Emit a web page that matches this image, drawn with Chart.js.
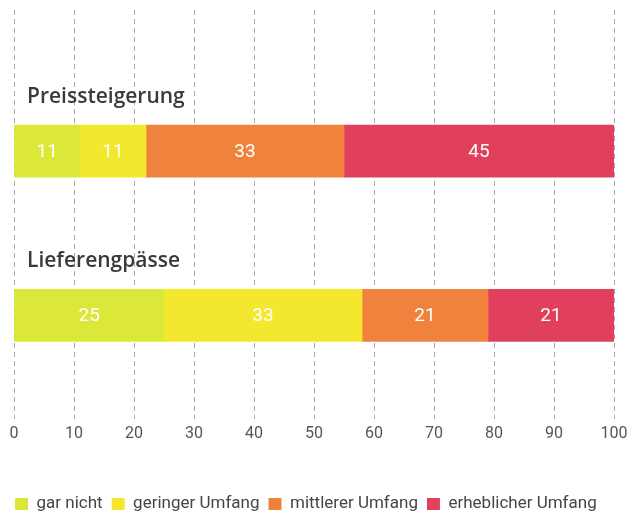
<!DOCTYPE html>
<html lang="de">
<head>
<meta charset="utf-8">
<title>Preissteigerung und Lieferengpässe</title>
<script src="https://cdn.jsdelivr.net/npm/chart.js@4/dist/chart.umd.min.js"></script>
<style>
  html, body { margin: 0; padding: 0; background: #fff; overflow: hidden; }
  #rahmen { width: 640px; height: 511px; position: relative; }
</style>
</head>
<body>
<div id="rahmen"><canvas id="umfrageChart"></canvas></div>
<script>
// --- Daten ---
const KATEGORIEN = ['Preissteigerung', 'Lieferengpässe'];
const SERIEN = ['gar nicht', 'geringer Umfang', 'mittlerer Umfang', 'erheblicher Umfang'];
const GAR_NICHT = [11, 25];
const GERINGER_UMFANG = [11, 33];
const MITTLERER_UMFANG = [33, 21];
const ERHEBLICHER_UMFANG = [45, 21];
const X_TICKS = [0, 10, 20, 30, 40, 50, 60, 70, 80, 90, 100];

const FARBEN = ['#dbe83a', '#f4e82f', '#ef823d', '#e0405c'];
const WERTE = [GAR_NICHT, GERINGER_UMFANG, MITTLERER_UMFANG, ERHEBLICHER_UMFANG];

// Gestrichelte senkrechte Linien, laufen über die ganze Höhe (auch über die Titel)
const gitterPlugin = {
  id: 'gitterLinien',
  beforeDatasetsDraw(chart) {
    const { ctx, scales: { x } } = chart;
    ctx.save();
    ctx.strokeStyle = '#a9a9a9';
    ctx.lineWidth = 1;
    ctx.setLineDash([5, 4]);
    x.ticks.forEach(t => {
      const px = Math.round(x.getPixelForValue(t.value)) + 0.5;
      ctx.beginPath();
      ctx.moveTo(px, 10);
      ctx.lineTo(px, 419);
      ctx.stroke();
    });
    ctx.restore();
  }
};

// Kategorie-Titel oberhalb der Balken
const titelPlugin = {
  id: 'kategorieTitel',
  afterDatasetsDraw(chart) {
    const { ctx } = chart;
    const meta = chart.getDatasetMeta(0);
    ctx.save();
    ctx.fillStyle = '#3a3a3a';
    ctx.font = '600 21px "Open Sans", sans-serif';
    ctx.textBaseline = 'alphabetic';
    ctx.textAlign = 'left';
    meta.data.forEach((bar, i) => {
      const oben = bar.y - bar.height / 2;
      ctx.fillText(KATEGORIEN[i], 27, oben - 22);
    });
    ctx.restore();
  }
};

// Werte weiß in die Mitte der Segmente
const wertPlugin = {
  id: 'wertLabels',
  afterDatasetsDraw(chart) {
    const { ctx } = chart;
    ctx.save();
    ctx.fillStyle = '#ffffff';
    ctx.font = '19px Roboto, sans-serif';
    ctx.textAlign = 'center';
    ctx.textBaseline = 'middle';
    chart.data.datasets.forEach((ds, di) => {
      chart.getDatasetMeta(di).data.forEach((bar, i) => {
        ctx.fillText(String(ds.data[i]), (bar.x + bar.base) / 2, bar.y + 1);
      });
    });
    ctx.restore();
  }
};

new Chart(document.getElementById('umfrageChart'), {
  type: 'bar',
  data: {
    labels: KATEGORIEN,
    datasets: SERIEN.map((name, i) => ({
      label: name,
      data: WERTE[i],
      backgroundColor: FARBEN[i],
      borderWidth: 0,
      barThickness: 52,
    })),
  },
  options: {
    indexAxis: 'y',
    responsive: true,
    maintainAspectRatio: false,
    animation: false,
    layout: { padding: { top: 69, left: 6, right: 26, bottom: -11.5 } },
    plugins: {
      tooltip: { enabled: false },
      legend: {
        position: 'bottom',
        align: 'start',
        labels: {
          boxWidth: 13,
          boxHeight: 12,
          padding: 9,
          color: '#454545',
          font: { family: 'Roboto, sans-serif', size: 17 },
        },
      },
    },
    scales: {
      x: {
        stacked: true,
        min: 0,
        max: 100,
        afterBuildTicks: (scale) => { scale.ticks = X_TICKS.map(v => ({ value: v })); },
        afterFit: (scale) => { scale.height = 89; },
        // Tick-Striche unsichtbar, nur als Abstand zu den Beschriftungen
        grid: {
          display: true,
          drawOnChartArea: false,
          drawTicks: true,
          tickLength: 26,
          color: 'rgba(0,0,0,0)',
        },
        border: { display: false },
        ticks: {
          padding: 1,
          color: '#555',
          font: { family: 'Roboto, sans-serif', size: 16 },
        },
      },
      y: {
        stacked: true,
        afterFit: (scale) => { scale.width = 8; },
        grid: { display: false },
        border: { display: false },
        ticks: { display: false },
      },
    },
  },
  plugins: [gitterPlugin, titelPlugin, wertPlugin],
});
</script>
</body>
</html>
